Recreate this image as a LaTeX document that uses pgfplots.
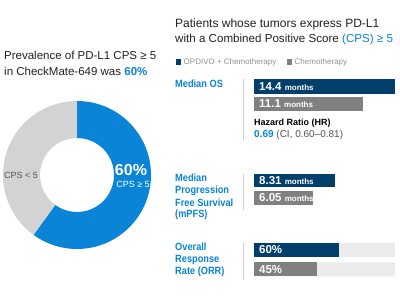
\documentclass[border=0pt]{standalone}
\usepackage{pgfplots}
\pgfplotsset{compat=1.18}
\usepackage{fontspec}
\setmainfont{Liberation Sans}
\newfontfamily\labfont{Liberation Sans}[FakeStretch=0.88]
\definecolor{cpsblue}{HTML}{0A84D6}
\definecolor{navy}{HTML}{003F6B}
\definecolor{barGray}{HTML}{808080}
\definecolor{donutGray}{HTML}{D3D3D3}
\definecolor{track}{HTML}{EBEBEB}
\definecolor{txt}{HTML}{222222}
\definecolor{subtxt}{HTML}{555555}
\definecolor{divider}{HTML}{D0D0D0}
\newcommand{\fs}[1]{\fontsize{#1}{#1}\selectfont}
\newcommand{\lab}[1]{\labfont\fs{10.5}\bfseries #1}
\begin{document}
\begin{tikzpicture}[x=1pt,y=1pt]
\useasboundingbox (0,0) rectangle (400,300);
\fill[white] (0,0) rectangle (400,300);
% ---------- left title
\node[anchor=west,text=txt,inner sep=0] at (4,245) {\fs{11.5}Prevalence of PD-L1 CPS ≥ 5};
\node[anchor=west,text=txt,inner sep=0] at (4,229) {\fs{11.5}in CheckMate-649 was \textcolor{cpsblue}{\bfseries 60\%}};
% ---------- donut
\def\cpsHigh{60}
\begin{axis}[hide axis, scale only axis, width=148pt, height=148pt,
  xmin=-1, xmax=1, ymin=-1, ymax=1, at={(3pt,51pt)}, anchor=south west]
\pgfmathsetmacro\endang{90-3.6*\cpsHigh}
\path (axis cs:0,0) coordinate (C);
\fill[cpsblue] ([shift={(90:74pt)}]C) arc[start angle=90,end angle=\endang,radius=74pt]
  -- ([shift={(\endang:37pt)}]C) arc[start angle=\endang,end angle=90,radius=37pt] -- cycle;
\fill[donutGray] ([shift={(\endang:74pt)}]C) arc[start angle=\endang,end angle=-270,radius=74pt]
  -- ([shift={(-270:37pt)}]C) arc[start angle=-270,end angle=\endang,radius=37pt] -- cycle;
\end{axis}
\node[anchor=west,text=subtxt,inner sep=0] at (4,125) {\fs{9}CPS < 5};
\node[text=white,inner sep=0] at (131,130) {\fs{16}\bfseries 60\%};
\node[text=white,inner sep=0] at (133,116) {\fs{9}CPS ≥ 5};
% ---------- right title
\node[anchor=west,text=txt,inner sep=0] at (175,276) {\fs{12}Patients whose tumors express PD-L1};
\node[anchor=west,text=txt,inner sep=0] at (175,260) {\fs{11.6}with a Combined Positive Score \textcolor{cpsblue}{(CPS) ≥ 5}};
% legend
\fill[navy] (175.5,235) rectangle (181,241);
\node[anchor=west,text=gray!85,inner sep=0] at (183.5,238) {\fs{8}OPDIVO + Chemotherapy};
\fill[barGray] (286.5,235) rectangle (292,241);
\node[anchor=west,text=gray!85,inner sep=0] at (294.5,238) {\fs{8}Chemotherapy};
% row labels
\node[anchor=west,text=cpsblue,inner sep=0] at (175,216) {\lab{Median OS}};
\node[anchor=west,text=cpsblue,inner sep=0] at (175,122) {\lab{Median}};
\node[anchor=west,text=cpsblue,inner sep=0] at (175,109) {\lab{Progression}};
\node[anchor=west,text=cpsblue,inner sep=0] at (175,97) {\lab{Free Survival}};
\node[anchor=west,text=cpsblue,inner sep=0] at (175,85) {\lab{(mPFS)}};
\node[anchor=west,text=cpsblue,inner sep=0] at (175,53) {\lab{Overall}};
\node[anchor=west,text=cpsblue,inner sep=0] at (175,40) {\lab{Response}};
\node[anchor=west,text=cpsblue,inner sep=0] at (175,28) {\lab{Rate (ORR)}};
% dividers
\draw[divider,line width=0.8pt] (243,221) -- (243,160);
\draw[divider,line width=0.8pt] (243,126) -- (243,90);
\draw[divider,line width=0.8pt] (243,57) -- (243,20);
% hazard ratio
\node[anchor=west,text=black,inner sep=0] at (254,177) {\fs{9}\bfseries Hazard Ratio (HR)};
\node[anchor=west,text=subtxt,inner sep=0] at (254,165) {\fs{10}\textcolor{cpsblue}{\bfseries 0.69} (CI, 0.60–0.81)};
% ---------- months bars
\begin{axis}[hide axis, scale only axis, width=141pt, height=300pt,
  xmin=0, xmax=14.4, ymin=0, ymax=300, at={(254pt,0pt)}, anchor=south west,
  clip=false]
\addplot[xbar, bar width=14.5, fill=navy, draw=none] coordinates {(14.4,213.5)};
\addplot[xbar, bar width=14, fill=barGray, draw=none] coordinates {(11.1,196)};
\addplot[xbar, bar width=13.5, fill=navy, draw=none] coordinates {(8.31,119.5)};
\addplot[xbar, bar width=14, fill=barGray, draw=none] coordinates {(6.05,102)};
\node[anchor=west,text=white,inner sep=0] at ([xshift=5pt]axis cs:0,213.5) {\fs{11.5}\bfseries 14.4 \fs{8}months};
\node[anchor=west,text=white,inner sep=0] at ([xshift=5pt]axis cs:0,196) {\fs{11.5}\bfseries 11.1 \fs{8}months};
\node[anchor=west,text=white,inner sep=0] at ([xshift=5pt]axis cs:0,119.5) {\fs{11.5}\bfseries 8.31 \fs{8}months};
\node[anchor=west,text=white,inner sep=0] at ([xshift=5pt]axis cs:0,102) {\fs{11.5}\bfseries 6.05 \fs{8}months};
\end{axis}
% ---------- ORR bars
\begin{axis}[hide axis, scale only axis, width=141pt, height=300pt,
  xmin=0, xmax=100, ymin=0, ymax=300, at={(254pt,0pt)}, anchor=south west,
  clip=false]
\addplot[xbar, bar width=14, fill=track, draw=none] coordinates {(100,50) (100,30.5)};
\addplot[xbar, bar width=14, fill=navy, draw=none] coordinates {(60,50)};
\addplot[xbar, bar width=14, fill=barGray, draw=none] coordinates {(45,30.5)};
\node[anchor=west,text=white,inner sep=0] at ([xshift=5pt]axis cs:0,50) {\fs{11.5}\bfseries 60\%};
\node[anchor=west,text=white,inner sep=0] at ([xshift=5pt]axis cs:0,30.5) {\fs{11.5}\bfseries 45\%};
\end{axis}
\end{tikzpicture}
\end{document}
